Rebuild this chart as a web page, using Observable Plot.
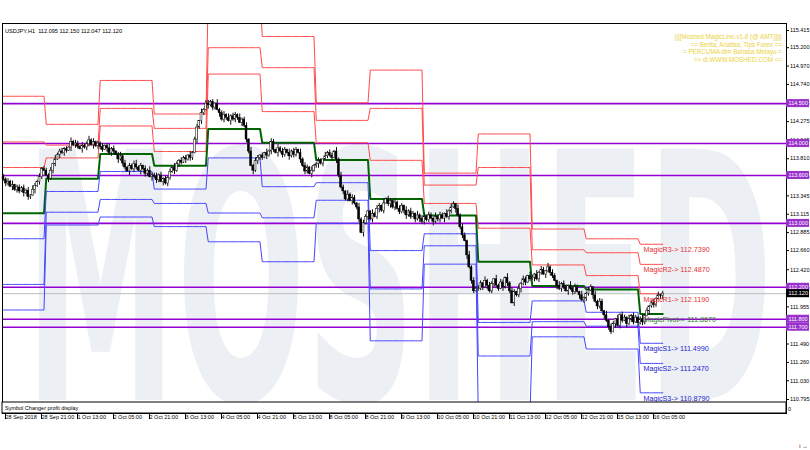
<!DOCTYPE html>
<html><head><meta charset="utf-8">
<script src="https://cdn.jsdelivr.net/npm/d3@7"></script>
<script src="https://cdn.jsdelivr.net/npm/@observablehq/plot@0.6"></script>
<style>body{margin:0;background:#fff;overflow:hidden}#chart{position:absolute;left:0;top:0}</style>
</head><body><div id="chart"></div>
<script>
// ---------- data ----------
const symbolTitle = "USDJPY,H1  112.095 112.150 112.047 112.120";
const infoLines = ["|||[Moshed MagicLine-v1.8 (@ AMT)]|||", "== Berita, Analisa, Tips Forex ==", "= PERCUMA dlm Bahasa Melayu =", "=> di WWW.MOSHED.COM <="];
const dayNames = ["28 Sep","1 Oct","2 Oct","3 Oct","4 Oct","5 Oct","8 Oct","9 Oct","10 Oct","11 Oct","12 Oct","15 Oct","16 Oct"];
const dayBars = [19,24,24,24,24,24,24,24,24,24,24,24,11];
const firstOpen = 113.58;
const closes = [
 113.55,113.50,113.52,113.46,113.48,113.42,113.45,113.40,113.44,113.38,113.41,113.33,113.35,113.42,113.47,113.52,113.58,113.68,113.66,
 113.60,113.56,113.66,113.74,113.80,113.86,113.90,113.88,113.93,113.91,113.95,114.02,113.98,114.00,113.96,113.93,113.97,113.95,113.99,114.04,113.98,114.02,113.97,114.00,
 113.96,113.92,113.97,113.94,113.88,113.93,113.90,113.86,113.80,113.84,113.75,113.70,113.65,113.72,113.68,113.74,113.70,113.66,113.72,113.68,113.62,113.66,113.58,113.60,
 113.58,113.54,113.60,113.52,113.56,113.50,113.57,113.64,113.70,113.66,113.74,113.78,113.76,113.82,113.80,113.85,113.82,113.88,114.05,114.20,114.28,114.38,114.42,114.50,
 114.48,114.52,114.45,114.50,114.42,114.38,114.30,114.36,114.32,114.28,114.34,114.30,114.36,114.32,114.26,114.30,114.22,114.05,113.90,113.72,113.66,113.78,113.82,113.85,
 113.82,113.88,113.85,113.90,114.02,113.92,113.88,113.94,113.90,113.86,113.92,113.88,113.84,113.90,113.86,113.92,113.88,113.80,113.72,113.65,113.70,113.62,113.66,113.72,
 113.74,113.78,113.75,113.80,113.84,113.88,113.85,113.82,113.90,113.80,113.60,113.45,113.40,113.30,113.36,113.28,113.32,113.25,113.20,113.05,112.88,113.00,113.08,113.15,
 113.05,113.12,113.08,113.18,113.22,113.16,113.25,113.30,113.24,113.28,113.20,113.26,113.18,113.14,113.22,113.16,113.10,113.15,113.08,113.12,113.05,113.10,113.06,113.02,
 113.08,113.04,113.10,113.06,113.02,113.08,113.05,113.10,113.06,113.12,113.08,113.15,113.20,113.24,113.18,113.10,112.95,112.85,112.78,112.60,112.45,112.28,112.15,112.18,
 112.18,112.25,112.20,112.28,112.22,112.15,112.24,112.30,112.22,112.18,112.26,112.20,112.32,112.25,112.15,112.00,112.14,112.10,112.18,112.24,112.30,112.26,112.34,112.30,
 112.32,112.36,112.30,112.38,112.42,112.36,112.40,112.45,112.38,112.34,112.28,112.22,112.18,112.24,112.20,112.15,112.22,112.18,112.14,112.20,112.14,112.10,112.04,112.06,
 112.12,112.16,112.20,112.10,112.02,111.96,112.02,111.90,111.85,111.78,111.70,111.64,111.74,111.80,111.72,111.85,111.78,111.82,111.74,111.80,111.84,111.76,111.82,111.75,
 111.80,111.76,111.84,111.90,111.96,112.00,111.98,112.05,112.10,112.095,112.12
];
// wick lengths in pips (0.01) above / below candle body, one digit per bar, one string per day
const wickUpByDay = ["3242513324241532423","324152342315243142352413","241352413524132452314253","352413241532423152341524","423152341524315234152431","315243152431524315243152","243152431524315243152431","152431524315243152431524","524315243152431524315243","431524315243152431524315","315243152431524315243152","243152431524315243152431","35241352413"];
const wickDnByDay = ["2431524315243152431","152431524315243152431524","431524315243152431524315","243152431524315243152431","524315243152431524315243","315243152431524315243152","352413241532423152341524","241352413524132452314253","423152341524315234152431","324152342315243142352413","152431524315243152431524","431524315243152431524315","24315243155"];
// MagicLine daily levels (one value per day)
const levR3    = [114.592,114.24,114.79,114.37,115.92,115.34,114.51,114.92,113.63,114.12,112.93,112.807,112.739];
const levR2    = [114.020,113.98,114.44,114.19,115.20,114.95,114.29,114.44,113.48,113.70,112.67,112.633,112.487];
const levR1    = [113.700,113.82,114.22,113.90,114.87,114.40,114.01,113.79,113.25,112.94,112.48,112.347,112.119];
const levPivot = [113.128,113.56,113.87,113.723,114.183,114.01,113.793,113.307,113.10,112.52,112.217,112.173,111.867];
const levS1    = [112.808,113.40,113.65,113.43,113.82,113.46,113.51,112.66,112.87,111.76,112.03,111.887,111.499];
const levS2    = [112.236,113.14,113.30,113.25,113.13,113.07,113.29,112.18,112.72,111.34,111.77,111.713,111.247];
const levS3    = [111.916,112.98,113.08,112.96,112.77,112.52,113.00,111.53,112.49,110.60,111.58,111.427,110.879];
const magicNames = ["MagicR3","MagicR2","MagicR1","MagicPivot","MagicS1","MagicS2","MagicS3"];
const hLines = [114.500,114.000,113.600,113.000,112.200,111.800,111.700];
const bidPrice = 112.120;
const yTicks = [115.415,115.200,114.970,114.740,114.505,114.275,114.045,113.810,113.580,113.345,113.115,112.885,112.660,112.420,112.190,111.955,111.725,111.490,111.260,111.030,110.795];
const xTickLabels = ["28 Sep 2018","28 Sep 21:00","1 Oct 13:00","2 Oct 05:00","2 Oct 21:00","3 Oct 13:00","4 Oct 05:00","4 Oct 21:00","5 Oct 13:00","8 Oct 05:00","8 Oct 21:00","9 Oct 13:00","10 Oct 05:00","10 Oct 21:00","11 Oct 13:00","12 Oct 05:00","12 Oct 21:00","15 Oct 13:00","16 Oct 05:00"];
const xTickEvery = 16; // bars between time labels
const watermark = "MOSHED";

// ---------- build table ----------
const bars = [];
{
  let i = 0, prev = firstOpen;
  dayBars.forEach((n, d) => {
    for (let k = 0; k < n; k++) {
      const c = closes[i], o = prev;
      const up = +wickUpByDay[d][k], dn = +wickDnByDay[d][k];
      bars.push({i, day: d, open: o, close: c, high: Math.max(o, c) + up * 0.01, low: Math.min(o, c) - dn * 0.01});
      prev = c; i++;
    }
  });
}
const lastDay = dayBars.length - 1;
const lastDayStart = d3.sum(dayBars.slice(0, lastDay));
const series = [
  {v: levR3, color: "#ff4a4a", w: 1}, {v: levR2, color: "#ff4a4a", w: 1}, {v: levR1, color: "#ff4a4a", w: 1},
  {v: levPivot, color: "#006400", w: 2},
  {v: levS1, color: "#4646ff", w: 1}, {v: levS2, color: "#4646ff", w: 1}, {v: levS3, color: "#4646ff", w: 1}
];
const labelColors = ["#e83030","#e83030","#e83030","#2d7a2d","#2020d0","#2020d0","#2020d0"];
const magic = series.map((s, k) => ({name: magicNames[k], value: s.v[lastDay], color: labelColors[k]}));
const xTicks = xTickLabels.map((_, k) => k * xTickEvery);
const xLabelOf = new Map(xTicks.map((t, k) => [t, xTickLabels[k]]));

const chart = Plot.plot({
  width: 810, height: 450,
  marginLeft: 2, marginRight: 24, marginTop: 23, marginBottom: 37,
  style: {fontFamily: "'Liberation Sans', Arial, sans-serif", fontSize: "5.5px", background: "#fff", color: "#000"},
  x: {domain: [-0.45, 348], axis: null},
  y: {domain: [110.62, 115.503], axis: null},
  marks: [
    Plot.ruleY([bidPrice], {stroke: "#bdbdbd", strokeWidth: 1}),
    Plot.ruleY(hLines, {stroke: "#9400d3", strokeWidth: 1.6}),
    ...series.map(s => Plot.line(bars, {x: "i", y: d => s.v[d.day], stroke: s.color, strokeWidth: s.w, clip: true})),
    Plot.ruleX(bars, {x: "i", y1: "low", y2: "high", stroke: "#111", strokeWidth: 1}),
    Plot.rect(bars, {x1: d => d.i - 0.42, x2: d => d.i + 0.42, y1: "open", y2: "close", fill: d => d.close >= d.open ? "#fff" : "#000", stroke: "#000", strokeWidth: 0.5}),
    Plot.text(magic, {x: lastDayStart + 1.4, y: "value", text: d => `${d.name}-> ${d.value.toFixed(4)}`, fill: "color", textAnchor: "start", dy: 5.5, fontSize: 7.2}),
    Plot.axisY(yTicks, {anchor: "right", tickSize: 2, tickPadding: 1.5, tickFormat: d => d.toFixed(3), fontSize: 5.5}),
    Plot.axisX(xTicks, {anchor: "bottom", tickSize: 6, tickPadding: -4, textAnchor: "start", dx: 2, tickFormat: d => xLabelOf.get(d), fontSize: 5.5}),
    Plot.frame({stroke: "#000"})
  ]
});
document.getElementById("chart").appendChild(chart);

// ---------- decorations ----------
const svg = d3.select(chart);
const y = chart.scale("y");
const W = 810, right = W - 24, left = 2, bottom = 450 - 37;
const addText = (x, yy, size, fill, txt, anchor = "start") => svg.append("text")
  .attr("x", x).attr("y", yy).attr("font-size", size).attr("fill", fill).attr("text-anchor", anchor).text(txt);
// watermark behind everything
svg.insert("text", "g")
  .attr("x", 25).attr("y", 400).attr("text-anchor", "start")
  .attr("font-family", "'DejaVu Sans', sans-serif").attr("font-weight", "bold")
  .attr("font-size", 345).attr("textLength", 748).attr("lengthAdjust", "spacingAndGlyphs")
  .attr("fill", "#eceff4").text(watermark);
// title
addText(5, 33, 5.6, "#000", symbolTitle);
// info lines
infoLines.forEach((t, k) => addText(782, 39 + k * 7.5, 6.3, "#ecd23a", t, "end"));
// price boxes on the axis
const boxes = hLines.map(v => ({v, fill: "#9932cc"})).concat([{v: bidPrice, fill: "#000"}]);
boxes.forEach(b => {
  const yy = y.apply(b.v);
  svg.append("rect").attr("x", right).attr("y", yy - 4).attr("width", 23).attr("height", 8).attr("fill", b.fill);
  addText(right + 2.5, yy + 2, 5.5, "#fff", b.v.toFixed(3));
});
// indicator sub-window strip
svg.append("rect").attr("x", left).attr("y", bottom - 11).attr("width", right - left).attr("height", 11).attr("fill", "#fff").attr("stroke", "#000").attr("stroke-width", 1);
addText(5, bottom - 3.5, 5.5, "#000", "Symbol Changer profit display");
addText(right + 2, bottom - 2, 5.5, "#000", "0");
</script></body></html>
